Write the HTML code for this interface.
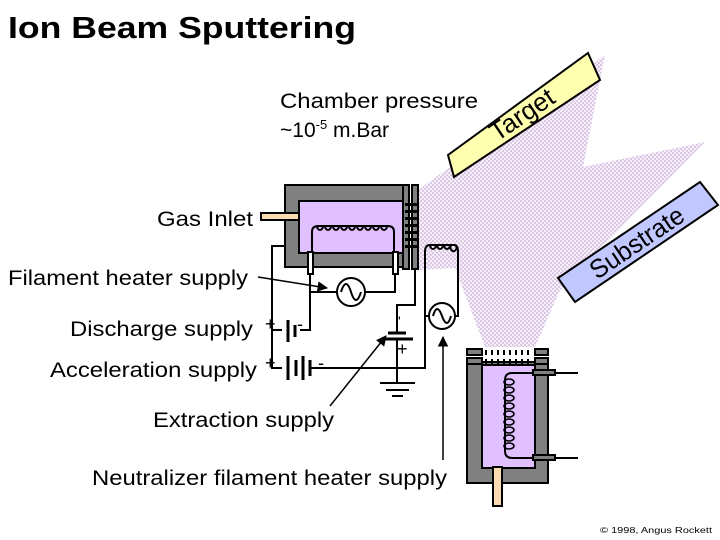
<!DOCTYPE html><html><head><meta charset="utf-8"><style>body{margin:0;background:#fff}svg{display:block}text{font-family:"Liberation Sans",sans-serif}</style></head><body>
<svg width="720" height="540" viewBox="0 0 720 540" xmlns="http://www.w3.org/2000/svg">
<defs><pattern id="d" width="4" height="4" patternUnits="userSpaceOnUse"><rect width="4" height="4" fill="#f6f0f9"/><rect width="2" height="2" fill="#dcc8e6"/><rect x="2" y="2" width="2" height="2" fill="#dcc8e6"/></pattern>
<marker id="a" viewBox="0 0 10 10" refX="9" refY="5" markerWidth="7" markerHeight="7" orient="auto"><path d="M0,0L10,5L0,10z" fill="#000"/></marker></defs>
<polygon points="418,190 605,55 583,167 705,142 560,290 535,347 485,347 455,268 418,270" fill="url(#d)"/>
<polygon points="448,155 588,53 600,80 454,177" fill="#ffffb0" stroke="#000" stroke-width="2"/>
<text x="0" y="0" font-size="26" transform="translate(497,142) rotate(-34)">Target</text>
<polygon points="558,278 700,182 718,205 575,302" fill="#c0c8ff" stroke="#000" stroke-width="2"/>
<text x="0" y="0" font-size="26" transform="translate(597,280) rotate(-34)" textLength="108" lengthAdjust="spacingAndGlyphs">Substrate</text>
<g lengthAdjust="spacingAndGlyphs">
<text x="8" y="38" font-size="31" font-weight="bold" textLength="348" lengthAdjust="spacingAndGlyphs">Ion Beam Sputtering</text>
<text x="280" y="108" font-size="21" textLength="198" lengthAdjust="spacingAndGlyphs">Chamber pressure</text>
<text x="280" y="137" font-size="21">~10<tspan font-size="13" dy="-8">-5</tspan><tspan dy="8"> m.Bar</tspan></text>
<text x="157" y="226" font-size="21" textLength="96" lengthAdjust="spacingAndGlyphs">Gas Inlet</text>
<text x="8" y="285" font-size="21" textLength="240" lengthAdjust="spacingAndGlyphs">Filament heater supply</text>
<text x="70" y="336" font-size="21" textLength="183" lengthAdjust="spacingAndGlyphs">Discharge supply</text>
<text x="50" y="377" font-size="21" textLength="207" lengthAdjust="spacingAndGlyphs">Acceleration supply</text>
<text x="153" y="427" font-size="21" textLength="181" lengthAdjust="spacingAndGlyphs">Extraction supply</text>
<text x="92" y="485" font-size="21" textLength="355" lengthAdjust="spacingAndGlyphs">Neutralizer filament heater supply</text>
<text x="600" y="533" font-size="8" textLength="112" lengthAdjust="spacingAndGlyphs">© 1998, Angus Rockett</text>
</g>
<g stroke="#000" stroke-width="2" fill="none">
<rect x="285" y="185" width="120" height="82" fill="#808080"/>
<rect x="299" y="201" width="106" height="52" fill="#e0c0ff"/>
<rect x="403" y="185" width="6" height="84" fill="#808080"/>
<rect x="412" y="185" width="6" height="84" fill="#808080"/>
<rect x="261" y="213" width="38" height="7" fill="#f9ddb0"/>
<path d="M312,252 V232 Q312,226 318,226 H388 Q394,226 394,232 V252"/>
<path d="M317,226 a3,4 0 1 0 6,0 M325,226 a3,4 0 1 0 6,0 M333,226 a3,4 0 1 0 6,0 M341,226 a3,4 0 1 0 6,0 M349,226 a3,4 0 1 0 6,0 M357,226 a3,4 0 1 0 6,0 M365,226 a3,4 0 1 0 6,0 M373,226 a3,4 0 1 0 6,0 M381,226 a3,4 0 1 0 6,0"/>
<rect x="308" y="252" width="5" height="22" fill="#fff"/><rect x="393" y="252" width="5" height="22" fill="#fff"/>
<path d="M310,274 V330 H300 M310,292 H337 M365,292 H395 V274"/>
<circle cx="351" cy="292" r="14" fill="#fff"/><path d="M341,292 q5,-16 10,0 t10,0"/>
<path d="M285,246 H272 V368 H282 M272,330 H282"/>
<path d="M288,320 V342 M295,325 V337" stroke-width="3"/>
<path d="M288,356 V380 M296,360 V376 M303,356 V380 M310,360 V376" stroke-width="3"/>
<path d="M310,368 H425 V252 Q425,245 430,245 H454 Q458,245 458,252 V316 H455"/>
<path d="M430,245 a3,4 0 1 0 6,0 M437,245 a3,4 0 1 0 6,0 M444,245 a3,4 0 1 0 6,0 M451,245 a3,4 0 1 0 5,0"/>
<circle cx="442" cy="316" r="13" fill="#fff"/><path d="M433,316 q4,-14 9,0 t9,0"/>
<path d="M429,316 H425"/>
<path d="M415,269 V305 H397 V332 M397,340 V382"/>
<path d="M388,333 H406 M381,339 H413" stroke-width="3"/>
<path d="M380,383 H415 M386,390 H409 M392,396 H403"/>
<path d="M258,277 L327,288" stroke-width="1.5" marker-end="url(#a)"/>
<path d="M330,406 L386,336" stroke-width="1.5" marker-end="url(#a)"/>
<path d="M443,460 V337" stroke-width="1.5" marker-end="url(#a)"/>
<rect x="467" y="362" width="81" height="121" fill="#808080"/>
<rect x="482" y="365" width="53" height="103" fill="#e0c0ff"/>
<rect x="467" y="349" width="15" height="6" fill="#808080"/><rect x="535" y="349" width="13" height="6" fill="#808080"/>
<rect x="467" y="358" width="15" height="6" fill="#808080"/><rect x="535" y="358" width="13" height="6" fill="#808080"/>
<path d="M578,373 H512 Q505,373 505,380 V451 Q505,458 512,458 H578"/>
<g stroke-width="1.6"><ellipse cx="509" cy="382" rx="5" ry="3"/><ellipse cx="509" cy="390" rx="5" ry="3"/><ellipse cx="509" cy="398" rx="5" ry="3"/><ellipse cx="509" cy="406" rx="5" ry="3"/><ellipse cx="509" cy="414" rx="5" ry="3"/><ellipse cx="509" cy="422" rx="5" ry="3"/><ellipse cx="509" cy="430" rx="5" ry="3"/><ellipse cx="509" cy="438" rx="5" ry="3"/><ellipse cx="509" cy="446" rx="5" ry="3"/></g>
<rect x="533" y="370" width="22" height="5" fill="#808080"/><rect x="533" y="455" width="22" height="5" fill="#808080"/>
<rect x="493" y="467" width="9" height="39" fill="#f9ddb0"/>
</g>
<g fill="#000"><rect x="405" y="203" width="12" height="3"/><rect x="405" y="210" width="12" height="3"/><rect x="405" y="217" width="12" height="3"/><rect x="405" y="224" width="12" height="3"/><rect x="405" y="231" width="12" height="3"/><rect x="405" y="238" width="12" height="3"/><rect x="405" y="245" width="12" height="3"/>
<g id="g"><rect x="485" y="350" width="2" height="5"/><rect x="491" y="350" width="2" height="5"/><rect x="497" y="350" width="2" height="5"/><rect x="503" y="350" width="2" height="5"/><rect x="509" y="350" width="2" height="5"/><rect x="515" y="350" width="2" height="5"/><rect x="521" y="350" width="2" height="5"/><rect x="527" y="350" width="2" height="5"/></g>
<use href="#g" y="9"/></g>
<g font-size="18"><text x="265" y="330">+</text><text x="297" y="330">-</text><text x="265" y="369">+</text><text x="318" y="369">-</text><text x="398" y="326" font-size="14">'</text><text x="397" y="355">+</text></g>
</svg></body></html>
